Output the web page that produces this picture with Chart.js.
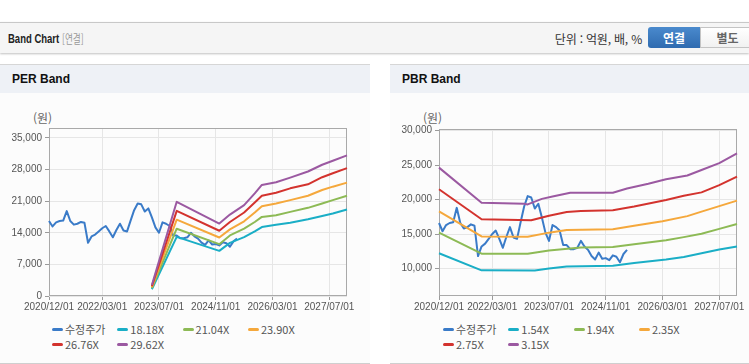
<!DOCTYPE html>
<html lang="ko">
<head>
<meta charset="utf-8">
<title>Band Chart</title>
<script src="https://cdn.jsdelivr.net/npm/chart.js@4.4.1/dist/chart.umd.min.js"></script>
<style>
  body { margin: 0; width: 749px; height: 364px; overflow: hidden; background: #fff; position: relative;
         font-family: "Noto Sans CJK KR", "Liberation Sans", sans-serif; }
  .abs { position: absolute; white-space: nowrap; }
  .hdr { left: 0; top: 22px; width: 749px; height: 30px; background: #f5f5f5; border-top: 1px solid #c8c8c8;
         box-shadow: 0 1px 2px rgba(0,0,0,0.25); }
  .hdr-title { left: 8px; top: 30px; font: bold 12.5px "Liberation Sans", sans-serif; line-height: 18px; color: #222;
               transform: scaleX(0.76); transform-origin: left center; }
  .hdr-sub { left: 62px; top: 30px; font-size: 12px; line-height: 18px; color: #999;
             transform: scaleX(0.72); transform-origin: left center; }
  .unit { right: 107px; top: 30px; font-size: 12px; line-height: 18px; color: #333; letter-spacing: -0.2px; }
  .btn { top: 27px; height: 21px; line-height: 21px; text-align: center; font-size: 12px; font-weight: bold; box-sizing: border-box; }
  .btn-on { left: 648px; width: 52px; background: linear-gradient(#4a8acd, #2f6bb0); color: #fff; border-radius: 3px 0 0 3px; }
  .btn-off { left: 700px; width: 55px; background: linear-gradient(#fff, #f1f1f1); color: #666; border: 1px solid #c4c4c4; line-height: 19px; }
  .panel { top: 64px; height: 298px; background: #fcfcfc; border-top: 1px solid #d6d6d6; border-bottom: 1px solid #cfcfcf; }
  .ptitle { position: absolute; left: 0; top: 0; right: 0; height: 28px; background: #eef1f6;
            font: bold 12px "Liberation Sans", sans-serif; line-height: 29px; color: #111; padding-left: 12px; }
  .won { font-size: 12px; line-height: 14px; color: #666; }
  canvas { position: absolute; }
  .legend { width: 262px; white-space: normal; font-size: 0; }
  .legend .item { display: inline-flex; align-items: center; width: 65.3px; height: 14.7px; font-size: 11px; color: #555; white-space: nowrap; }
  .legend .swatch { display: inline-block; width: 11px; height: 3px; border-radius: 1.5px; margin-right: 2px; }
</style>
</head>
<body>
<div class="abs hdr"></div>
<div class="abs hdr-title">Band Chart</div>
<div class="abs hdr-sub">[연결]</div>
<div class="abs unit">단위 : 억원, 배, %</div>
<div class="abs btn btn-on">연결</div>
<div class="abs btn btn-off">별도</div>

<div class="abs panel" style="left:0; width:370px;"><div class="ptitle">PER Band</div></div>
<div class="abs panel" style="left:390px; width:359px;"><div class="ptitle">PBR Band</div></div>

<div class="abs won" style="left:33px; top:111px;">(원)</div>
<div class="abs won" style="left:423px; top:111px;">(원)</div>

<canvas id="per" width="370" height="223" style="left:0; top:93px;"></canvas>
<canvas id="pbr" width="359" height="223" style="left:390px; top:93px;"></canvas>

<div class="abs legend" id="perLegend" style="left:52px; top:322px;"></div>
<div class="abs legend" id="pbrLegend" style="left:443px; top:322px;"></div>

<script>
// 월별 축 (2020/12 ~ 2027/12)
const months = [];
for (let y = 2020, m = 12; y < 2028; ) {
    months.push(y + '/' + String(m).padStart(2, '0') + '/01');
    m++;
    if (m > 12) { m = 1; y++; }
    if (y === 2028) break;
}
const xTickIdx = [0, 15, 31, 47, 63, 79];

// 수정주가 (월별)
const price = [16600, 15400, 16300, 16600, 16700, 18800, 16600, 15800, 16000, 16400,
               16200, 11800, 13200, 13600, 14300, 15000, 15500, 14300, 13000, 14600,
               16000, 14500, 14300, 16700, 19000, 20500, 20300, 18700, 19400, 17400,
               15200, 14000, 16300, 16000, 15500, 13400, 13400, 12800, 12800, 13000,
               14000, 13200, 12700, 11800, 11300, 12300, 11400, 11500, 11200, 11900,
               11700, 10900, 12100, 12700];

// PER 밴드 [월 인덱스, 값]
const perLabels = ['18.18X', '21.04X', '23.90X', '26.76X', '29.62X'];
const per18 = [[29, 1490], [36, 13100], [48, 10000], [51, 11770], [55, 13040], [58, 14300], [60, 15270], [64, 15790], [68, 16240], [73, 16990], [77, 17730], [80, 18250], [84, 19150]];
const per21 = [[29, 1720], [36, 14900], [48, 11480], [51, 13410], [55, 14900], [58, 16390], [60, 17510], [64, 17880], [68, 18630], [73, 19520], [77, 20490], [80, 21230], [84, 22200]];
const per24 = [[29, 1960], [36, 16900], [48, 12950], [51, 14750], [55, 16540], [58, 18480], [60, 19890], [64, 20490], [68, 21230], [73, 22200], [77, 23470], [80, 24210], [84, 25110]];
const per27 = [[29, 2190], [36, 18850], [48, 14450], [51, 16390], [55, 18480], [58, 20710], [60, 22200], [64, 22870], [68, 23840], [73, 24730], [77, 26300], [80, 27190], [84, 28310]];
const per30 = [[29, 2430], [36, 20850], [48, 16050], [51, 18030], [55, 20120], [58, 22720], [60, 24590], [64, 25180], [68, 26220], [73, 27570], [77, 29060], [80, 29950], [84, 31140]];

// PBR 밴드 [월 인덱스, 값]
const pbrLabels = ['1.54X', '1.94X', '2.35X', '2.75X', '3.15X'];
const pbr154 = [[0, 12200], [12, 9730], [27, 9700], [31, 9980], [36, 10300], [49, 10400], [55, 10800], [64, 11300], [69, 11650], [74, 12200], [79, 12750], [84, 13200]];
const pbr194 = [[0, 15200], [12, 12150], [25, 12150], [31, 12600], [40, 13050], [49, 13100], [55, 13500], [64, 14100], [69, 14550], [74, 15050], [79, 15750], [84, 16450]];
const pbr235 = [[0, 18300], [12, 14650], [25, 14600], [31, 15200], [36, 15600], [49, 15700], [55, 16200], [63, 16850], [70, 17600], [74, 18250], [79, 19050], [84, 19850]];
const pbr275 = [[0, 21500], [12, 17150], [26, 17000], [31, 17650], [36, 18200], [40, 18350], [49, 18450], [55, 19000], [64, 19950], [69, 20550], [74, 21050], [79, 22100], [84, 23340]];
const pbr315 = [[0, 24640], [12, 19550], [24, 19400], [25, 19300], [29, 20100], [32, 20450], [37, 21000], [49, 21000], [53, 21600], [59, 22300], [64, 22950], [70, 23500], [74, 24300], [79, 25300], [84, 26700]];

const perYTicks = [0, 7000, 14000, 21000, 28000, 35000];
const pbrYTicks = [10000, 15000, 20000, 25000, 30000];

const colors = ['#3a7bc8', '#1aaec6', '#8dba55', '#f5a83c', '#d3332e', '#9b59a1'];

const tickFont = { family: '"Liberation Sans", Arial, sans-serif', size: 10 };

// 차트 영역 테두리
const frame = {
    id: 'frame',
    beforeDatasetsDraw(chart) {
        const { ctx, chartArea: a } = chart;
        ctx.save();
        ctx.strokeStyle = '#a9a9a9';
        ctx.lineWidth = 1;
        ctx.strokeRect(Math.round(a.left) + 0.5, Math.round(a.top) + 0.5,
                       Math.round(a.right - a.left) - 1, Math.round(a.bottom - a.top) - 1);
        ctx.restore();
    }
};

function toPoints(pairs) {
    return pairs.map(p => ({ x: months[p[0]], y: p[1] }));
}

function makeChart(id, bands, bandLabels, yTicks, yMin, yMax, padTop, padRight) {
    const datasets = [{
        label: '수정주가', data: price, borderColor: colors[0], order: 10
    }];
    bands.forEach((b, i) => {
        datasets.push({ label: bandLabels[i], data: toPoints(b), borderColor: colors[i + 1], order: 9 - i });
    });

    new Chart(document.getElementById(id), {
        type: 'line',
        data: { labels: months, datasets: datasets },
        options: {
            responsive: false,
            animation: false,
            layout: { padding: { left: 0, right: padRight, top: padTop, bottom: 0 } },
            elements: {
                point: { radius: 0 },
                line: { borderWidth: 2, tension: 0, borderJoinStyle: 'round' }
            },
            plugins: { legend: { display: false }, tooltip: { enabled: false } },
            scales: {
                x: {
                    afterBuildTicks: s => { s.ticks = xTickIdx.map(i => ({ value: i })); },
                    afterFit: s => { s.height = 20; },
                    ticks: { autoSkip: false, maxRotation: 0, padding: 1, color: '#555', font: tickFont },
                    grid: { color: '#e6e6e6', tickColor: '#9a9a9a', tickLength: 4 },
                    border: { display: false }
                },
                y: {
                    min: yMin,
                    max: yMax,
                    afterBuildTicks: s => { s.ticks = yTicks.map(v => ({ value: v })); },
                    afterFit: s => { s.width = 49; },
                    ticks: { padding: 3, color: '#555', font: tickFont, callback: v => v.toLocaleString('en-US') },
                    grid: { color: '#e6e6e6', tickColor: '#9a9a9a', tickLength: 4 },
                    border: { display: false }
                }
            }
        },
        plugins: [frame]
    });

    // 범례
    const legend = document.getElementById(id + 'Legend');
    datasets.forEach(d => {
        const item = document.createElement('span');
        item.className = 'item';
        item.innerHTML = '<span class="swatch" style="background:' + d.borderColor + '"></span>' + d.label;
        legend.appendChild(item);
    });
}

makeChart('per', [per18, per21, per24, per27, per30], perLabels, perYTicks, 0, 37200, 35, 23);
makeChart('pbr', [pbr154, pbr194, pbr235, pbr275, pbr315], pbrLabels, pbrYTicks, 6000, 30250, 36, 12);
</script>
</body>
</html>
